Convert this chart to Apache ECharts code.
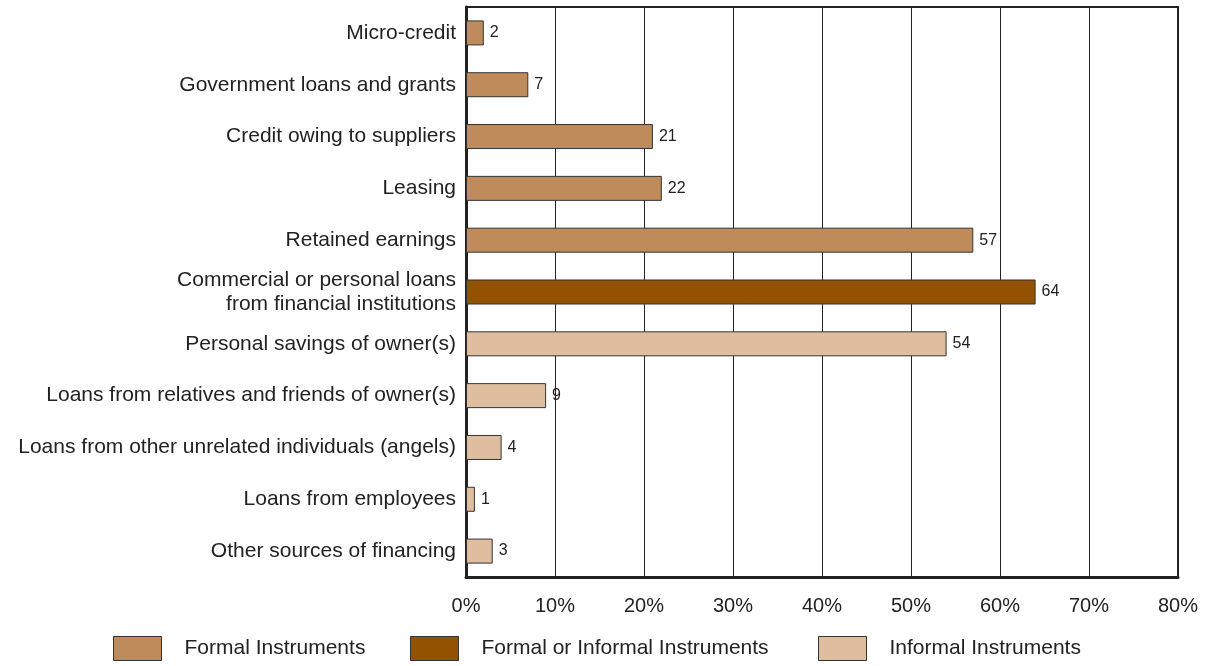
<!DOCTYPE html>
<html>
<head>
<meta charset="utf-8">
<script src="https://cdn.jsdelivr.net/npm/echarts@6/dist/echarts.min.js"></script>
<style>
  html, body { margin: 0; padding: 0; background: #fff; }
  #chart { width: 1206px; height: 666px; }
</style>
</head>
<body>
<div id="chart"></div>
<script>
// Sources of financing, share of enterprises (%)
const categories = [
  'Micro-credit',
  'Government loans and grants',
  'Credit owing to suppliers',
  'Leasing',
  'Retained earnings',
  'Commercial or personal loans\nfrom financial institutions',
  'Personal savings of owner(s)',
  'Loans from relatives and friends of owner(s)',
  'Loans from other unrelated individuals (angels)',
  'Loans from employees',
  'Other sources of financing'
];
const formalValues   = [2, 7, 21, 22, 57, null, null, null, null, null, null];
const mixedValues    = [null, null, null, null, null, 64, null, null, null, null, null];
const informalValues = [null, null, null, null, null, null, 54, 9, 4, 1, 3];
const seriesNames = ['Formal Instruments', 'Formal or Informal Instruments', 'Informal Instruments'];
const xTicks = [0, 10, 20, 30, 40, 50, 60, 70, 80];

const FONT = '"Liberation Sans", Arial, Helvetica, sans-serif';
const colors = ['#BF8B5A', '#935200', '#DFBE9F'];

function barSeries(name, data, color) {
  return {
    name: name,
    type: 'bar',
    stack: 'all',
    data: data,
    barWidth: 25,
    itemStyle: { color: color, borderColor: '#333', borderWidth: 1 },
    label: {
      show: true,
      position: 'right',
      distance: 6,
      color: '#222',
      fontFamily: FONT,
      fontSize: 16,
      formatter: p => (p.value == null ? '' : String(p.value))
    }
  };
}

function legendAt(left, name) {
  return {
    left: left,
    top: 636,
    padding: 0,
    itemWidth: 48,
    itemHeight: 24,
    icon: 'rect',
    data: [name],
    selectedMode: false,
    itemStyle: { borderColor: '#333', borderWidth: 1 },
    textStyle: { color: '#222', fontFamily: FONT, fontSize: 21, padding: [0, 0, 0, 18] }
  };
}

const chart = echarts.init(document.getElementById('chart'));
chart.setOption({
  animation: false,
  backgroundColor: '#fff',
  grid: {
    left: 466, right: 28, top: 7, bottom: 89,
    show: true, borderColor: '#222', borderWidth: 2
  },
  legend: [
    legendAt(113, seriesNames[0]),
    legendAt(410, seriesNames[1]),
    legendAt(818, seriesNames[2])
  ],
  xAxis: {
    type: 'value',
    min: xTicks[0],
    max: xTicks[xTicks.length - 1],
    interval: 10,
    axisLine: { show: true, lineStyle: { color: '#222', width: 3 } },
    axisTick: { show: false },
    splitLine: { show: true, lineStyle: { color: '#222', width: 1 } },
    axisLabel: {
      margin: 19,
      color: '#222',
      fontFamily: FONT,
      fontSize: 20,
      formatter: v => v + '%'
    }
  },
  yAxis: {
    type: 'category',
    inverse: true,
    data: categories,
    axisLine: { show: true, lineStyle: { color: '#222', width: 3 } },
    axisTick: { show: false },
    axisLabel: {
      margin: 10,
      color: '#222',
      fontFamily: FONT,
      fontSize: 21,
      lineHeight: 24,
      align: 'right'
    }
  },
  series: [
    barSeries(seriesNames[0], formalValues, colors[0]),
    barSeries(seriesNames[1], mixedValues, colors[1]),
    barSeries(seriesNames[2], informalValues, colors[2])
  ]
});
</script>
</body>
</html>
